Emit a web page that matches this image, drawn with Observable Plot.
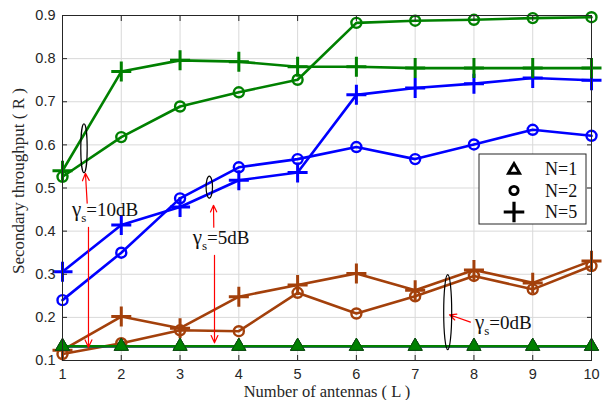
<!DOCTYPE html>
<html><head><meta charset="utf-8">
<script src="https://cdn.jsdelivr.net/npm/d3@7"></script>
<script src="https://cdn.jsdelivr.net/npm/@observablehq/plot@0.6"></script>
<style>body{margin:0;background:#fff}#chart{width:605px;height:400px}</style>
</head><body><div id="chart"></div>
<script>
// ---- data ----
const antennas = [1, 2, 3, 4, 5, 6, 7, 8, 9, 10];
const xTicks = [1, 2, 3, 4, 5, 6, 7, 8, 9, 10];
const yTicks = [0.1, 0.2, 0.3, 0.4, 0.5, 0.6, 0.7, 0.8, 0.9];

const snr0N1 = [0.133, 0.133, 0.133, 0.133, 0.133, 0.133, 0.133, 0.133, 0.133, 0.133];
const snr0N2 = [0.115, 0.140, 0.170, 0.168, 0.257, 0.209, 0.249, 0.296, 0.265, 0.319];
const snr0N5 = [0.124, 0.202, 0.175, 0.248, 0.275, 0.302, 0.263, 0.310, 0.280, 0.331];

const snr5N1 = [0.133, 0.133, 0.133, 0.133, 0.133, 0.133, 0.133, 0.133, 0.133, 0.133];
const snr5N2 = [0.240, 0.350, 0.476, 0.548, 0.567, 0.595, 0.567, 0.601, 0.635, 0.621];
const snr5N5 = [0.306, 0.414, 0.456, 0.518, 0.536, 0.716, 0.732, 0.742, 0.755, 0.750];

const snr10N1 = [0.133, 0.133, 0.133, 0.133, 0.133, 0.133, 0.133, 0.133, 0.133, 0.133];
const snr10N2 = [0.526, 0.618, 0.689, 0.722, 0.751, 0.883, 0.888, 0.890, 0.894, 0.896];
const snr10N5 = [0.540, 0.770, 0.796, 0.793, 0.781, 0.781, 0.778, 0.778, 0.778, 0.778];

const legendLabels = ["N=1", "N=2", "N=5"];
const snrLabels = ["10dB", "5dB", "0dB"];
const snrLabelX = [1.17, 3.224, 8.026];
const snrLabelY = [0.435, 0.368, 0.173];
const ellipseX = [1.374, 3.506, 7.562];
const ellipseY = [0.591, 0.501, 0.211];
const arrowX1 = [1.42, 1.442, 3.574, 3.586, 7.94];
const arrowY1 = [0.465, 0.409, 0.409, 0.344, 0.189];
const arrowX2 = [1.39, 1.442, 3.569, 3.586, 7.584];
const arrowY2 = [0.534, 0.131, 0.46, 0.141, 0.206];

// ---- build ----
const colors = {"0dB": "#a3400b", "5dB": "#0000ff", "10dB": "#008000"};
const table = (vals, snr, n) => antennas.map((L, i) => ({L, R: vals[i], snr, n}));
const groups = [
  ["0dB", [[snr0N2, 2], [snr0N5, 5]]],
  ["5dB", [[snr5N2, 2], [snr5N5, 5]]],
  ["10dB", [[snr10N2, 2], [snr10N5, 5]]]
];
const n1 = [["0dB", snr0N1], ["5dB", snr5N1], ["10dB", snr10N1]];

const marks = [
  Plot.gridX(xTicks, {stroke: "#d9d9d9", strokeOpacity: 1}),
  Plot.gridY(yTicks, {stroke: "#d9d9d9", strokeOpacity: 1})
];
for (const [snr, list] of groups) {
  for (const [vals, n] of list) {
    const d = table(vals, snr, n);
    marks.push(Plot.line(d, {x: "L", y: "R", stroke: colors[snr], strokeWidth: 2.6}));
    if (n === 2) marks.push(Plot.dot(d, {x: "L", y: "R", symbol: "circle", r: 5, stroke: colors[snr], fill: "none", strokeWidth: 2.4}));
    else marks.push(Plot.dot(d, {x: "L", y: "R", symbol: "plus", r: 6.5, stroke: colors[snr], strokeWidth: 3}));
  }
}
for (const [snr, vals] of n1) {
  const d = table(vals, snr, 1);
  marks.push(Plot.line(d, {x: "L", y: "R", stroke: colors[snr], strokeWidth: 2.6}));
  marks.push(Plot.dot(d, {x: "L", y: "R", symbol: "triangle", r: 5.2, fill: colors[snr], stroke: "#0a4a0a", strokeWidth: 0.8}));
}

// axes: ticks inward and labels
marks.push(
  Plot.frame({stroke: "#262626", strokeWidth: 1}),
  Plot.axisX(xTicks, {anchor: "bottom", tickSize: 5, dy: -5, tickFormat: () => "", label: null}),
  Plot.axisX(xTicks, {anchor: "top", tickSize: 5, dy: 5, tickFormat: () => "", label: null}),
  Plot.axisY(yTicks, {anchor: "left", tickSize: 5, dx: 5, tickFormat: () => "", label: null}),
  Plot.axisY(yTicks, {anchor: "right", tickSize: 5, dx: -5, tickFormat: () => "", label: null}),
  Plot.axisX(xTicks, {anchor: "bottom", tickSize: 0, tickPadding: 8, label: null, fontSize: 14.5, tickFormat: d => String(d)}),
  Plot.axisY(yTicks, {anchor: "left", tickSize: 0, tickPadding: 7, label: null, fontSize: 14.5, tickFormat: d => d.toFixed(1)}),
  Plot.text(["Number of antennas ( L )"], {text: d => d, frameAnchor: "bottom", lineAnchor: "middle", textAnchor: "middle", dy: 30.8, fontFamily: "Liberation Serif", fontSize: 16.5, fill: "#262626"}),
  Plot.text(["Secondary throughput ( R )"], {text: d => d, frameAnchor: "left", textAnchor: "middle", lineAnchor: "middle", rotate: -90, dx: -44, dy: -7, fontFamily: "Liberation Serif", fontSize: 17, fill: "#262626"}),
  Plot.arrow(arrowX1.map((v, i) => i), {x1: i => arrowX1[i], y1: i => arrowY1[i], x2: i => arrowX2[i], y2: i => arrowY2[i], stroke: "#ff0000", strokeWidth: 1.2, headLength: 10, headAngle: 50})
);

// ellipses, gamma labels and legend
marks.push((index, scales, values, dims) => {
  const {x, y} = scales;
  const g = d3.create("svg:g").attr("text-anchor", "start");
  const ry = [24.5, 11, 37.5], rx = [3.2, 3.2, 4];
  ellipseX.forEach((cx, i) => {
    g.append("ellipse").attr("cx", x(cx)).attr("cy", y(ellipseY[i])).attr("rx", rx[i]).attr("ry", ry[i])
      .attr("fill", "none").attr("stroke", "#000").attr("stroke-width", 1.2);
  });
  snrLabels.forEach((lab, i) => {
    const t = g.append("text").attr("x", x(snrLabelX[i])).attr("y", y(snrLabelY[i]))
      .attr("text-anchor", "start")
      .attr("font-family", "Liberation Serif").attr("font-size", 19).attr("fill", "#111");
    t.append("tspan").attr("font-size", 21).text("γ");
    t.append("tspan").attr("dy", 6).attr("font-size", 13).text("s");
    t.append("tspan").attr("dy", -6).text("=" + lab);
  });
  // legend
  const right = dims.width - dims.marginRight;
  const lx = right - 112, ly = 154;
  g.append("rect").attr("x", lx).attr("y", ly).attr("width", 107).attr("height", 70)
    .attr("fill", "#fff").attr("stroke", "#262626").attr("stroke-width", 1);
  const syms = [d3.symbolTriangle, d3.symbolCircle, d3.symbolPlus];
  const sizes = [55, 55, 140];
  legendLabels.forEach((lab, i) => {
    const cy = ly + 15 + i * 21.5;
    g.append("path").attr("transform", `translate(${lx + 35},${cy + (i === 0 ? 1 : 0)})`)
      .attr("d", d3.symbol(syms[i], sizes[i])())
      .attr("fill", "none").attr("stroke", "#000").attr("stroke-width", i === 2 ? 3.2 : 2.8);
    g.append("text").attr("x", lx + 66).attr("y", cy).attr("dy", "0.35em").attr("text-anchor", "start")
      .attr("font-family", "Liberation Serif").attr("font-size", 18).attr("fill", "#111").text(lab);
  });
  return g.node();
});

const chart = Plot.plot({
  width: 605, height: 400,
  marginLeft: 62, marginRight: 14, marginTop: 15, marginBottom: 40,
  x: {domain: [1, 10]},
  y: {domain: [0.1, 0.9]},
  style: {fontFamily: "Liberation Sans", fontSize: "15px", color: "#262626", background: "#fff"},
  marks
});
document.getElementById("chart").appendChild(chart);
</script>
</body></html>
